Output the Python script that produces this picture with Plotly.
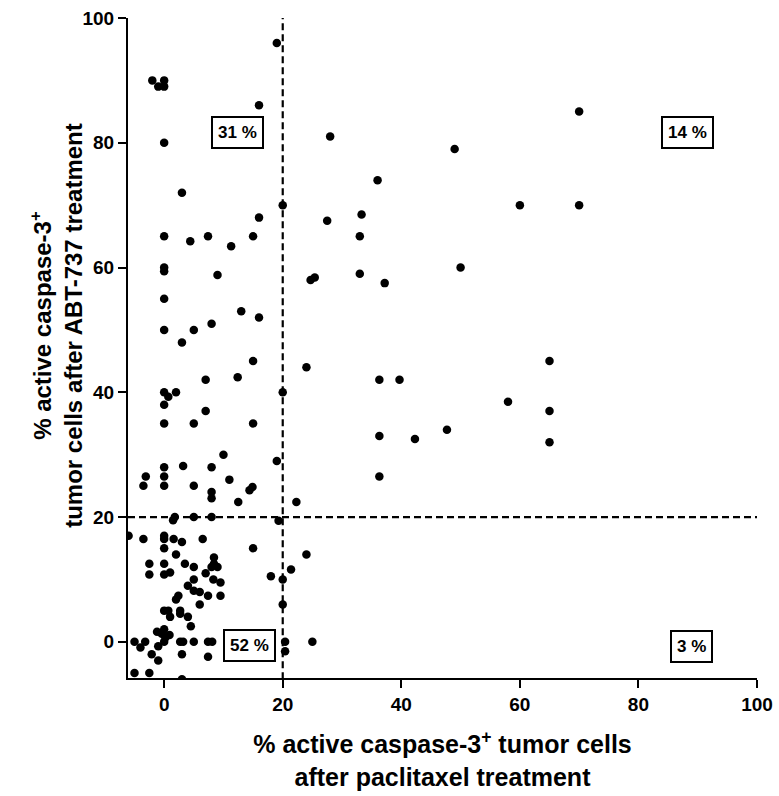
import plotly.graph_objects as go

# Data (x: paclitaxel, y: ABT-737)
top_left = [(-2,90),(-1,89),(0,90),(0,89),(19,96),(16,86),(0,80),(3,72),(20,70),(16,68),(0,65),(4.4,64.2),
            (7.4,65),(11.3,63.4),(15,65),(0,60),(0,59.4),(9,58.8),(0,55),(13,53),(16,52),(0,50),(5,50),(8,51),
            (3,48),(15,45),(7,42),(12.4,42.4),(0,40),(0.7,39.3),(2,40),(0,38),(20,40),(7,37),(0,35),(5,35),
            (15,35),(10,30),(19,29),(0,28),(3.2,28.2),(8,28),(-3.1,26.5),(0,26.5),(11,26),(-3.5,25),(0,25),
            (5,25),(8,24),(8,23),(12.5,22.4),(14.4,24.3),(14.9,24.8)]
top_right = [(28,81),(49,79),(36,74),(33.3,68.5),(27.5,67.5),(33,65),(24.7,58),(25.4,58.4),(33,59),(37.2,57.5),
             (50,60),(24,44),(36.3,42),(39.7,42),(58,38.5),(36.3,33),(42.3,32.5),(47.7,34),(36.3,26.5),
             (22.3,22.4),(70,85),(60,70),(70,70),(65,45),(65,37),(65,32)]
bottom = [(1.8,20),(1.5,19.5),(5,20),(8,20),(19.3,19.4),(-6,17),(-3.5,16.5),(0,17),(0,16.5),(1.6,16.5),(3,16),
          (6.5,16.5),(0,15),(2,14),(15,15),(8.4,13.5),(-2.5,12.5),(-2.5,10.8),(0,12.5),(0,10.8),(1,11.1),
          (3.5,12.5),(5,12),(8,12),(9,12),(8.4,12.5),(7,11),(8.3,10),(9.5,9.5),(5,10),(4,9),(5,8.2),(6,8),
          (7.4,7.4),(9.5,7.4),(2.4,7.4),(2,6.8),(6,6),(18,10.5),(20,10),(20,6),(24,14),(21.4,11.6),(0,5),
          (0.7,5),(1,4),(2.7,5),(2.7,4.5),(4,4),(4.5,2.5),(0,2),(-1.2,1.6),(-0.4,1.3),(0.9,1.1),(0.2,0.7),
          (-5,0),(-3.2,0),(-4,-0.9),(0,0),(2.7,0),(3.2,0),(5,0),(7.4,0),(8.1,0),(-1,-0.7),(-2.1,-2),(-1,-3),
          (3,-2),(7.4,-2.4),(20.4,0),(20.4,-1.5),(25,0),(-5,-5),(-2.5,-5),(3,-6)]

points = top_left + top_right + bottom
x_vals = [p[0] for p in points]
y_vals = [p[1] for p in points]

tick_vals = [0, 20, 40, 60, 80, 100]
tick_text = [str(v) for v in tick_vals]
threshold = 20
quadrant_labels = ["31 %", "14 %", "52 %", "3 %"]
quadrant_pos = [(12.3, 81.6), (88.2, 81.6), (14.4, -0.6), (89.0, -0.7)]

x_title = "% active caspase-3<sup>+</sup> tumor cells<br>after paclitaxel treatment"
y_title = "% active caspase-3<sup>+</sup><br>tumor cells after ABT-737 treatment"

FONT = "Liberation Sans"

fig = go.Figure()
fig.add_trace(go.Scatter(x=x_vals, y=y_vals, mode="markers",
                         marker=dict(color="black", size=8.5), showlegend=False))

# threshold lines
fig.add_shape(type="line", x0=threshold, x1=threshold, y0=-6, y1=100, xref="x", yref="y",
              line=dict(color="black", width=2.2, dash="7px,4px"), layer="below")
fig.add_shape(type="line", x0=-6.1, x1=100, y0=threshold, y1=threshold, xref="x", yref="y",
              line=dict(color="black", width=2.2, dash="7px,4px"), layer="below")

for txt, (ax, ay) in zip(quadrant_labels, quadrant_pos):
    fig.add_annotation(x=ax, y=ay, xref="x", yref="y", text=txt, showarrow=False,
                       font=dict(family=FONT, size=17, color="black", weight="bold"),
                       bordercolor="black", borderwidth=2, borderpad=5, bgcolor="white")

# y-axis title as rotated annotation for exact placement
fig.add_annotation(x=-0.113, y=0.535, xref="paper", yref="paper", text=y_title, showarrow=False,
                   textangle=-90, xanchor="center", yanchor="middle",
                   font=dict(family=FONT, size=24, color="black", weight="bold"))

axis_common = dict(
    tickvals=tick_vals, ticktext=tick_text, ticks="outside", ticklen=8, tickwidth=2,
    tickcolor="black", showline=True, linecolor="black", linewidth=2.2, showgrid=False,
    zeroline=False, automargin=False,
    tickfont=dict(family=FONT, size=19, color="black", weight="bold"),
)

fig.update_layout(
    width=779, height=796,
    margin=dict(l=128, r=22, t=18, b=118),
    plot_bgcolor="white", paper_bgcolor="white",
    font=dict(family=FONT, color="black"),
    xaxis=dict(range=[-6.1, 100],
               title=dict(text=x_title,
                          font=dict(family=FONT, size=25, color="black", weight="bold"), standoff=22),
               **axis_common),
    yaxis=dict(range=[-5.8, 100], **axis_common),
)

fig.write_html("out.html")
